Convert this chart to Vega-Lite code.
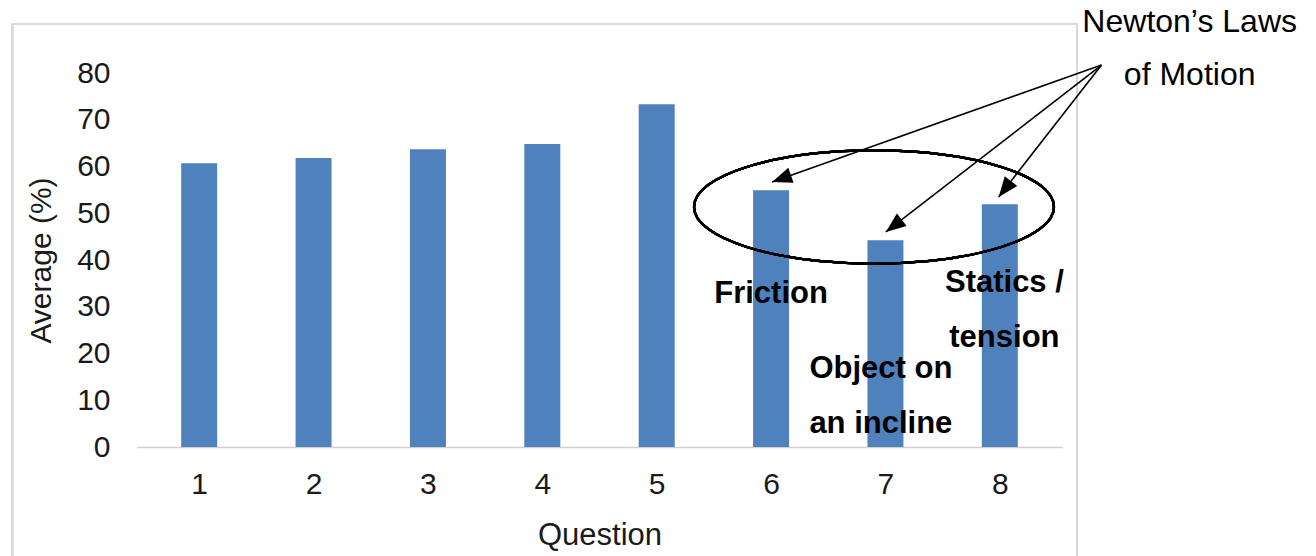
{
  "$schema": "https://vega.github.io/schema/vega-lite/v6.json",
  "width": 925,
  "height": 374,
  "autosize": "none",
  "padding": {"left": 137, "top": 73, "right": 254, "bottom": 109},
  "background": "white",
  "config": {"view": {"stroke": null}, "font": "Liberation Sans"},
  "datasets": {
    "scores": [
      {"Question": 1, "Average": 60.7},
      {"Question": 2, "Average": 61.8},
      {"Question": 3, "Average": 63.7},
      {"Question": 4, "Average": 64.8},
      {"Question": 5, "Average": 73.3},
      {"Question": 6, "Average": 54.9},
      {"Question": 7, "Average": 44.2},
      {"Question": 8, "Average": 51.9}
    ],
    "arrows": [
      {"fromQ": 8.889, "fromAvg": 81.7, "toQ": 6.009, "toAvg": 56.7, "angle": 250.6},
      {"fromQ": 8.889, "fromAvg": 81.7, "toQ": 7.004, "toAvg": 46.0, "angle": 232.5},
      {"fromQ": 8.889, "fromAvg": 81.7, "toQ": 7.99, "toAvg": 53.5, "angle": 218.2}
    ],
    "labels": [
      {"label": "Friction", "q": 6.0, "avg": 32.8},
      {"label": "Object on", "q": 6.96, "avg": 16.7},
      {"label": "an incline", "q": 6.96, "avg": 5.0},
      {"label": "Statics /", "q": 8.04, "avg": 35.1},
      {"label": "tension", "q": 8.04, "avg": 23.4}
    ],
    "notes": [
      {"label": "Newton’s Laws", "q": 9.66, "avg": 90.9},
      {"label": "of Motion", "q": 9.66, "avg": 79.6}
    ]
  },
  "layer": [
    {
      "data": {"name": "scores"},
      "mark": {"type": "rect", "filled": false, "stroke": "#D9D9D9", "strokeWidth": 1.5, "clip": false},
      "encoding": {
        "x": {"datum": -0.633, "type": "quantitative", "scale": {"domain": [0.5, 8.5], "nice": false, "zero": false}},
        "x2": {"datum": 8.673},
        "y": {"datum": 90.5, "type": "quantitative", "scale": {"domain": [0, 80], "nice": false}},
        "y2": {"datum": -24}
      }
    },
    {
      "data": {"name": "scores"},
      "mark": {"type": "bar", "size": 36, "color": "#4F81BD"},
      "encoding": {
        "x": {
          "field": "Question", "type": "quantitative",
          "scale": {"domain": [0.5, 8.5], "nice": false, "zero": false},
          "axis": {
            "values": [1, 2, 3, 4, 5, 6, 7, 8], "format": "d", "title": "Question", "grid": false, "ticks": false,
            "domainColor": "#D0D0D0", "domainWidth": 1.5, "labelFontSize": 30, "labelColor": "#1a1a1a",
            "labelPadding": 22, "labelFlush": false, "titleFontSize": 31, "titleFontWeight": "normal",
            "titleColor": "#1a1a1a", "titlePadding": 21
          }
        },
        "y": {
          "field": "Average", "type": "quantitative",
          "scale": {"domain": [0, 80], "nice": false},
          "axis": {
            "values": [0, 10, 20, 30, 40, 50, 60, 70, 80], "title": "Average (%)", "domain": false, "ticks": false,
            "gridColor": "#D9D9D9", "gridWidth": 1.5, "labelFontSize": 30, "labelColor": "#1a1a1a",
            "labelPadding": 27, "titleFontSize": 30, "titleFontWeight": "normal", "titleColor": "#1a1a1a",
            "titlePadding": 20
          }
        }
      }
    },
    {
      "data": {"name": "scores"},
      "mark": {
        "type": "point", "filled": false, "stroke": "black", "strokeWidth": 2.2, "opacity": 1, "size": 129600,
        "shape": "M-1,0C-1,-0.1734,-0.5523,-0.314,0,-0.314C0.5523,-0.314,1,-0.1734,1,0C1,0.1734,0.5523,0.314,0,0.314C-0.5523,0.314,-1,0.1734,-1,0Z"
      },
      "encoding": {
        "x": {"datum": 6.9, "type": "quantitative", "scale": {"domain": [0.5, 8.5], "nice": false, "zero": false}},
        "y": {"datum": 51.34, "type": "quantitative", "scale": {"domain": [0, 80], "nice": false}}
      }
    },
    {
      "data": {"name": "arrows"},
      "mark": {"type": "rule", "color": "black", "strokeWidth": 1.6},
      "encoding": {
        "x": {"field": "fromQ", "type": "quantitative", "scale": {"domain": [0.5, 8.5], "nice": false, "zero": false}},
        "y": {"field": "fromAvg", "type": "quantitative", "scale": {"domain": [0, 80], "nice": false}},
        "x2": {"field": "toQ"},
        "y2": {"field": "toAvg"}
      }
    },
    {
      "data": {"name": "arrows"},
      "mark": {"type": "point", "filled": true, "color": "black", "opacity": 1, "size": 1600, "shape": "M0,0L-0.4,1L0.4,1Z"},
      "encoding": {
        "x": {"field": "toQ", "type": "quantitative", "scale": {"domain": [0.5, 8.5], "nice": false, "zero": false}},
        "y": {"field": "toAvg", "type": "quantitative", "scale": {"domain": [0, 80], "nice": false}},
        "angle": {"field": "angle", "type": "quantitative", "scale": null}
      }
    },
    {
      "data": {"name": "labels"},
      "mark": {"type": "text", "fontSize": 31, "fontWeight": "bold", "color": "black", "align": "center", "baseline": "middle"},
      "encoding": {
        "x": {"field": "q", "type": "quantitative", "scale": {"domain": [0.5, 8.5], "nice": false, "zero": false}},
        "y": {"field": "avg", "type": "quantitative", "scale": {"domain": [0, 80], "nice": false}},
        "text": {"field": "label"}
      }
    },
    {
      "data": {"name": "notes"},
      "mark": {"type": "text", "fontSize": 32, "color": "black", "align": "center", "baseline": "middle"},
      "encoding": {
        "x": {"field": "q", "type": "quantitative", "scale": {"domain": [0.5, 8.5], "nice": false, "zero": false}},
        "y": {"field": "avg", "type": "quantitative", "scale": {"domain": [0, 80], "nice": false}},
        "text": {"field": "label"}
      }
    }
  ]
}
